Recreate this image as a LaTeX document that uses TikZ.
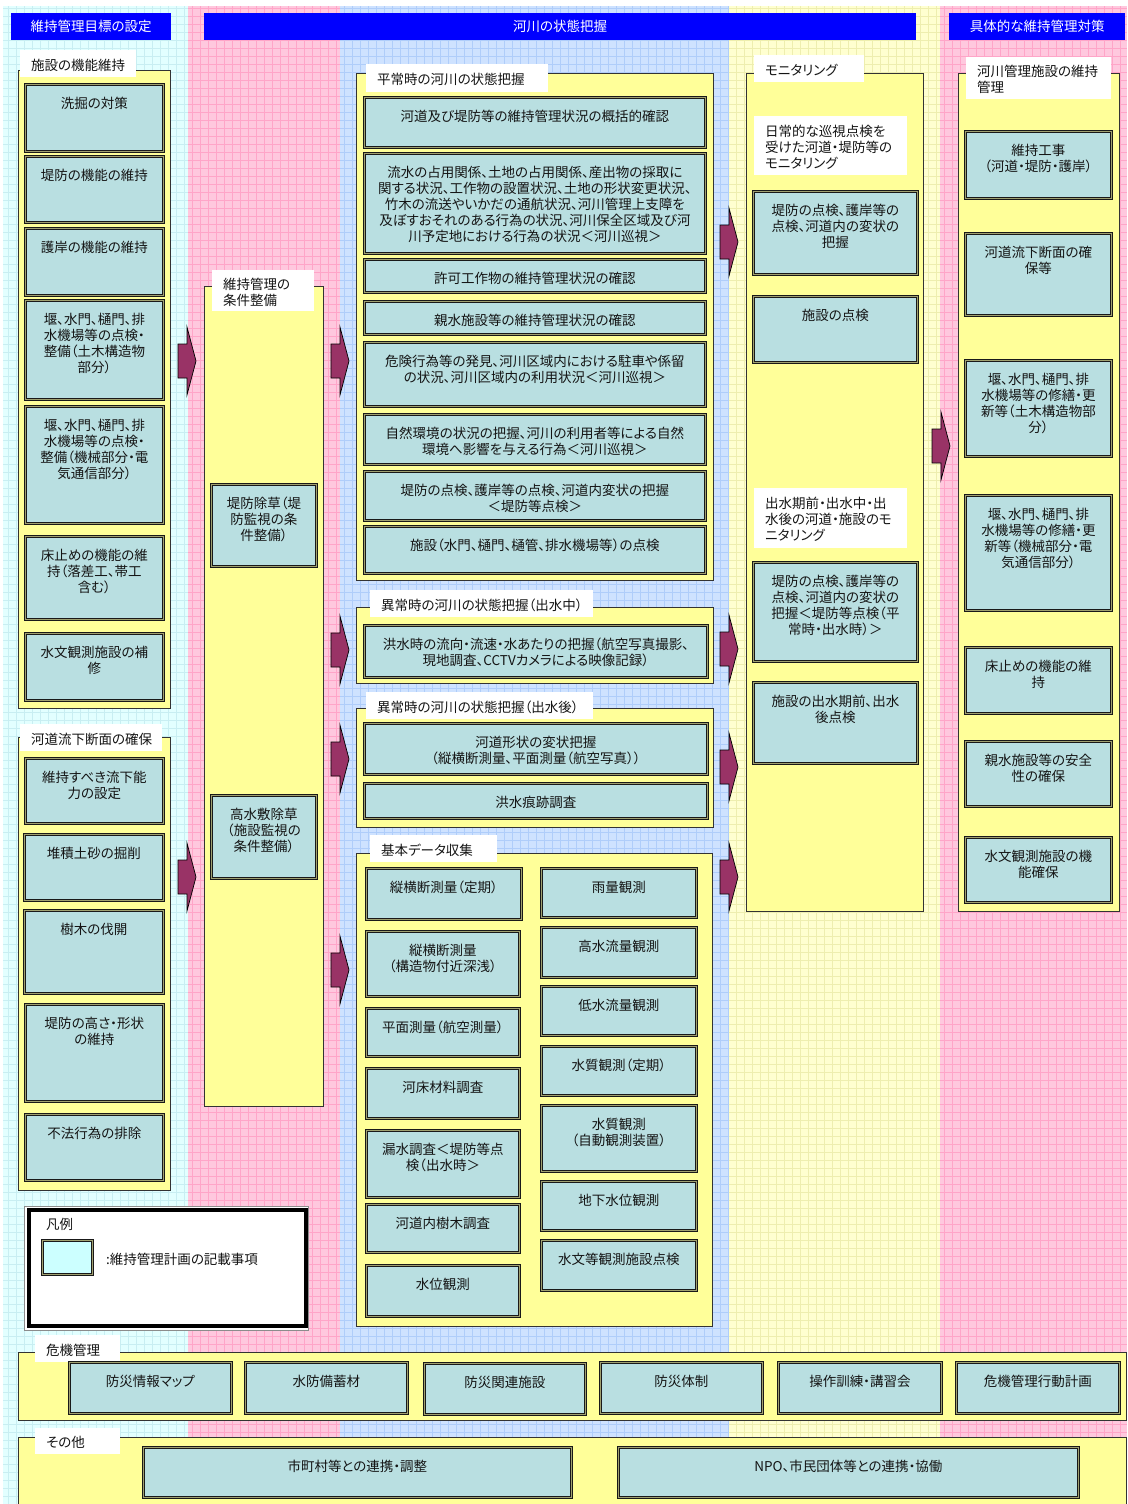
\documentclass[tikz,border=0pt]{standalone}
\usepackage{fontspec}
\setmainfont{Noto Sans CJK JP}[RawFeature=+palt]
\definecolor{cyanBG}{RGB}{226,255,255}
\definecolor{cyanG}{RGB}{200,238,242}
\definecolor{pinkBG}{RGB}{255,200,222}
\definecolor{pinkG}{RGB}{255,165,200}
\definecolor{blueBG}{RGB}{206,226,255}
\definecolor{blueG}{RGB}{175,205,250}
\definecolor{yelBG}{RGB}{255,255,208}
\definecolor{yelG}{RGB}{238,238,175}
\definecolor{grpY}{RGB}{255,255,153}
\definecolor{boxC}{RGB}{185,223,225}
\definecolor{dblC}{RGB}{160,160,112}
\definecolor{hdrB}{RGB}{0,0,255}
\definecolor{arrC}{RGB}{153,51,102}
\definecolor{txtC}{RGB}{20,20,20}
\definecolor{legC}{RGB}{204,255,255}
\tikzset{
 grp/.style={fill=grpY, draw=black!80, line width=0.8pt, inner sep=0pt},
 lab/.style={fill=white, draw=none, inner sep=0pt},
 tbox/.style={fill=boxC, draw=black!90, line width=0.75pt, double=dblC, double distance=1.6pt, inner sep=0pt},
 txt/.style={inner sep=0pt, align=center, text=txtC},
 ltxt/.style={inner sep=0pt, align=left, text=txtC},
 hdr/.style={fill=hdrB, draw=none, text=white, inner sep=0pt},
 arrst/.style={fill=arrC, draw=black, line width=0.7pt, line join=miter},
}
\newcommand\tbx[6]{\node[tbox, anchor=north west, minimum width={#4-#2}, minimum height={#5-#3}] (#1) at (#2,#3) {};
 \node[txt, anchor=north] (#1t) at ([yshift=-12.5pt]#1.north) {#6};}
\newcommand\lbl[6]{\node[lab, anchor=north west, minimum width=#4, minimum height=#5] (#1) at (#2,#3) {};
 \node[ltxt, anchor=west] (#1t) at ([xshift=11pt,yshift=-1.5pt]#1.west) {#6};}
\newcommand\grpbox[5]{\node[grp, anchor=north west, minimum width={#4-#2}, minimum height={#5-#3}] (#1) at (#2,#3) {};}
\newcommand\barr[3]{\coordinate (#1) at (#2,#3);
 \draw[arrst] (#1) ++(0,-17) -- ++(9,0) -- ++(0,-17) -- ++(9,34) -- ++(-9,34) -- ++(0,-17) -- ++(-9,0) -- cycle;}
\begin{document}
\begin{tikzpicture}[x=1pt,y=-1pt, font=\fontsize{13.5}{16}\selectfont]
\useasboundingbox (0,0) rectangle (1127,1504);
\fill[white] (0,0) rectangle (1127,1504);
% background columns
\fill[cyanBG] (3,6) rectangle (188,1504);
\fill[pinkBG] (188,6) rectangle (340,1504);
\fill[blueBG] (340,6) rectangle (729,1504);
\fill[yelBG] (729,6) rectangle (940,1504);
\fill[pinkBG] (940,6) rectangle (1127,1504);
\begin{scope}[x=1pt,y=1pt]
\draw[cyanG, line width=0.5pt, step=8pt] (3,-1504) grid (188,-6);
\draw[pinkG, line width=0.5pt, step=8pt] (188,-1504) grid (340,-6);
\draw[blueG, line width=0.5pt, step=8pt] (340,-1504) grid (729,-6);
\draw[yelG, line width=0.5pt, step=8pt] (729,-1504) grid (940,-6);
\draw[pinkG, line width=0.5pt, step=8pt] (940,-1504) grid (1127,-6);
\end{scope}
% headers
\node[hdr, anchor=north west, minimum width=160, minimum height=27] (h1) at (11,13) {維持管理目標の設定};
\node[hdr, anchor=north west, minimum width=712, minimum height=27] (h2) at (204,13) {河川の状態把握};
\node[hdr, anchor=north west, minimum width=176, minimum height=27] (h3) at (949,13) {具体的な維持管理対策};
% column 1
\grpbox{G1}{18}{70}{170}{708}
\lbl{L1}{20}{50}{116}{27}{施設の機能維持}
\tbx{b11}{25}{84}{163}{151}{洗掘の対策}
\tbx{b12}{25}{156}{163}{222}{堤防の機能の維持}
\tbx{b13}{25}{228}{163}{295}{護岸の機能の維持}
\tbx{b14}{25}{300}{163}{399}{堰、水門、樋門、排\\水機場等の点検・\\整備（土木構造物\\部分）}
\tbx{b15}{25}{406}{163}{523}{堰、水門、樋門、排\\水機場等の点検・\\整備（機械部分・電\\気通信部分）}
\tbx{b16}{25}{536}{163}{619}{床止めの機能の維\\持（落差工、帯工\\含む）}
\tbx{b17}{25}{633}{163}{700}{水文観測施設の補\\修}
\grpbox{G2}{18}{737}{170}{1190}
\lbl{L2}{20}{724}{142}{27}{河道流下断面の確保}
\tbx{b21}{25}{758}{163}{823}{維持すべき流下能\\力の設定}
\tbx{b22}{24}{834}{163}{900}{堆積土砂の掘削}
\tbx{b23}{24}{910}{163}{993}{樹木の伐開}
\tbx{b24}{25}{1004}{163}{1101}{堤防の高さ・形状\\の維持}
\tbx{b25}{25}{1114}{163}{1180}{不法行為の排除}
% column 2
\grpbox{G3}{204}{286}{323}{1106}
\lbl{L3}{212}{270}{102}{41}{維持管理の\\条件整備}
\tbx{b31}{211}{484}{316}{566}{堤防除草（堤\\防監視の条\\件整備）}
\tbx{b32}{211}{795}{316}{878}{高水敷除草\\（施設監視の\\条件整備）}
% column 3
\grpbox{G4}{356}{73}{713}{580}
\lbl{L4}{366}{64}{182}{28}{平常時の河川の状態把握}
\tbx{c1}{364}{97}{705}{147}{河道及び堤防等の維持管理状況の概括的確認}
\tbx{c2}{364}{153}{705}{253}{流水の占用関係、土地の占用関係、産出物の採取に\\関する状況、工作物の設置状況、土地の形状変更状況、\\竹木の流送やいかだの通航状況、河川管理上支障を\\及ぼすおそれのある行為の状況、河川保全区域及び河\\川予定地における行為の状況＜河川巡視＞}
\tbx{c3}{364}{259}{705}{292}{許可工作物の維持管理状況の確認}
\tbx{c4}{364}{301}{705}{334}{親水施設等の維持管理状況の確認}
\tbx{c5}{364}{342}{705}{406}{危険行為等の発見、河川区域内における駐車や係留\\の状況、河川区域内の利用状況＜河川巡視＞}
\tbx{c6}{364}{414}{705}{464}{自然環境の状況の把握、河川の利用者等による自然\\環境へ影響を与える行為＜河川巡視＞}
\tbx{c7}{364}{471}{705}{520}{堤防の点検、護岸等の点検、河道内変状の把握\\＜堤防等点検＞}
\tbx{c8}{364}{526}{705}{573}{施設（水門、樋門、樋管、排水機場等）の点検}
\grpbox{G5}{356}{607}{713}{683}
\lbl{L5}{370}{590}{223}{27}{異常時の河川の状態把握（出水中）}
\tbx{c9}{364}{625}{707}{677}{洪水時の流向・流速・水あたりの把握（航空写真撮影、\\現地調査、CCTVカメラによる映像記録）}
\grpbox{G6}{356}{708}{713}{827}
\lbl{L6}{366}{692}{227}{27}{異常時の河川の状態把握（出水後）}
\tbx{c10}{364}{723}{707}{774}{河道形状の変状把握\\（縦横断測量、平面測量（航空写真））}
\tbx{c11}{364}{783}{707}{818}{洪水痕跡調査}
\grpbox{G7}{356}{853}{712}{1326}
\lbl{L7}{370}{835}{127}{27}{基本データ収集}
\tbx{d1}{366}{868}{521}{919}{縦横断測量（定期）}
\tbx{d2}{366}{931}{519}{996}{縦横断測量\\（構造物付近深浅）}
\tbx{d3}{366}{1008}{519}{1056}{平面測量（航空測量）}
\tbx{d4}{366}{1068}{519}{1118}{河床材料調査}
\tbx{d5}{366}{1130}{519}{1197}{漏水調査＜堤防等点\\検（出水時＞}
\tbx{d6}{366}{1204}{519}{1252}{河道内樹木調査}
\tbx{d7}{366}{1265}{519}{1316}{水位観測}
\tbx{e1}{541}{868}{696}{917}{雨量観測}
\tbx{e2}{541}{927}{696}{977}{高水流量観測}
\tbx{e3}{541}{986}{696}{1035}{低水流量観測}
\tbx{e4}{541}{1046}{696}{1095}{水質観測（定期）}
\tbx{e5}{541}{1105}{696}{1171}{水質観測\\（自動観測装置）}
\tbx{e6}{541}{1181}{696}{1230}{地下水位観測}
\tbx{e7}{541}{1240}{696}{1290}{水文等観測施設点検}
% column 4
\grpbox{G8}{746}{73}{923}{911}
\lbl{L8}{754}{55}{110}{27}{モニタリング}
\lbl{w1}{754}{116}{153}{59}{日常的な巡視点検を\\受けた河道・堤防等の\\モニタリング}
\tbx{f1}{753}{191}{917}{274}{堤防の点検、護岸等の\\点検、河道内の変状の\\把握}
\tbx{f2}{753}{296}{917}{362}{施設の点検}
\lbl{w2}{754}{488}{153}{60}{出水期前・出水中・出\\水後の河道・施設のモ\\ニタリング}
\tbx{f3}{753}{562}{917}{661}{堤防の点検、護岸等の\\点検、河道内の変状の\\把握＜堤防等点検（平\\常時・出水時）＞}
\tbx{f4}{753}{682}{917}{763}{施設の出水期前、出水\\後点検}
% column 5
\grpbox{G9}{958}{73}{1119}{911}
\lbl{L9}{966}{57}{145}{42}{河川管理施設の維持\\管理}
\tbx{g1}{965}{131}{1111}{198}{維持工事\\（河道・堤防・護岸）}
\tbx{g2}{965}{233}{1111}{315}{河道流下断面の確\\保等}
\tbx{g3}{965}{360}{1111}{456}{堰、水門、樋門、排\\水機場等の修繕・更\\新等（土木構造物部\\分）}
\tbx{g4}{965}{495}{1111}{610}{堰、水門、樋門、排\\水機場等の修繕・更\\新等（機械部分・電\\気通信部分）}
\tbx{g5}{965}{647}{1111}{713}{床止めの機能の維\\持}
\tbx{g6}{965}{741}{1111}{806}{親水施設等の安全\\性の確保}
\tbx{g7}{965}{837}{1111}{902}{水文観測施設の機\\能確保}
% arrows
\barr{a1}{178}{361}
\barr{a2}{178}{877}
\barr{a3}{331}{361}
\barr{a4}{331}{650}
\barr{a5}{331}{759}
\barr{a6}{331}{970}
\barr{a7}{720}{242}
\barr{a8}{720}{649}
\barr{a9}{720}{767}
\barr{a10}{720}{877}
\barr{a11}{932}{446}
% legend
\node[fill=white, draw=black!45, line width=0.8pt, anchor=north west, minimum width=284, minimum height=124, inner sep=0pt] (leg) at (24,1206) {};
\draw[black, line width=4pt] ([shift={(5pt,-4pt)}]leg.north west) rectangle ([shift={(-3pt,5pt)}]leg.south east);
\node[ltxt, anchor=west] (legt) at (46,1224) {凡例};
\node[tbox, fill=legC, anchor=north west, minimum width=50, minimum height=34] (legs) at (42,1240) {};
\node[ltxt, anchor=west] (legd) at (106,1259) {:維持管理計画の記載事項};
% crisis management row
\grpbox{G10}{18}{1352}{1126}{1420}
\lbl{L10}{35}{1335}{85}{27}{危機管理}
\tbx{h1b}{69}{1362}{231}{1413}{防災情報マップ}
\tbx{h2b}{245}{1362}{407}{1413}{水防備蓄材}
\tbx{h3b}{424}{1363}{585}{1414}{防災関連施設}
\tbx{h4b}{600}{1362}{762}{1413}{防災体制}
\tbx{h5b}{778}{1362}{941}{1413}{操作訓練・講習会}
\tbx{h6b}{956}{1362}{1119}{1413}{危機管理行動計画}
% others row
\grpbox{G11}{18}{1437}{1126}{1512}
\lbl{L11}{35}{1428}{85}{26}{その他}
\tbx{i1}{143}{1447}{571}{1497}{市町村等との連携・調整}
\tbx{i2}{618}{1447}{1078}{1497}{NPO、市民団体等との連携・協働}
\end{tikzpicture}
\end{document}
